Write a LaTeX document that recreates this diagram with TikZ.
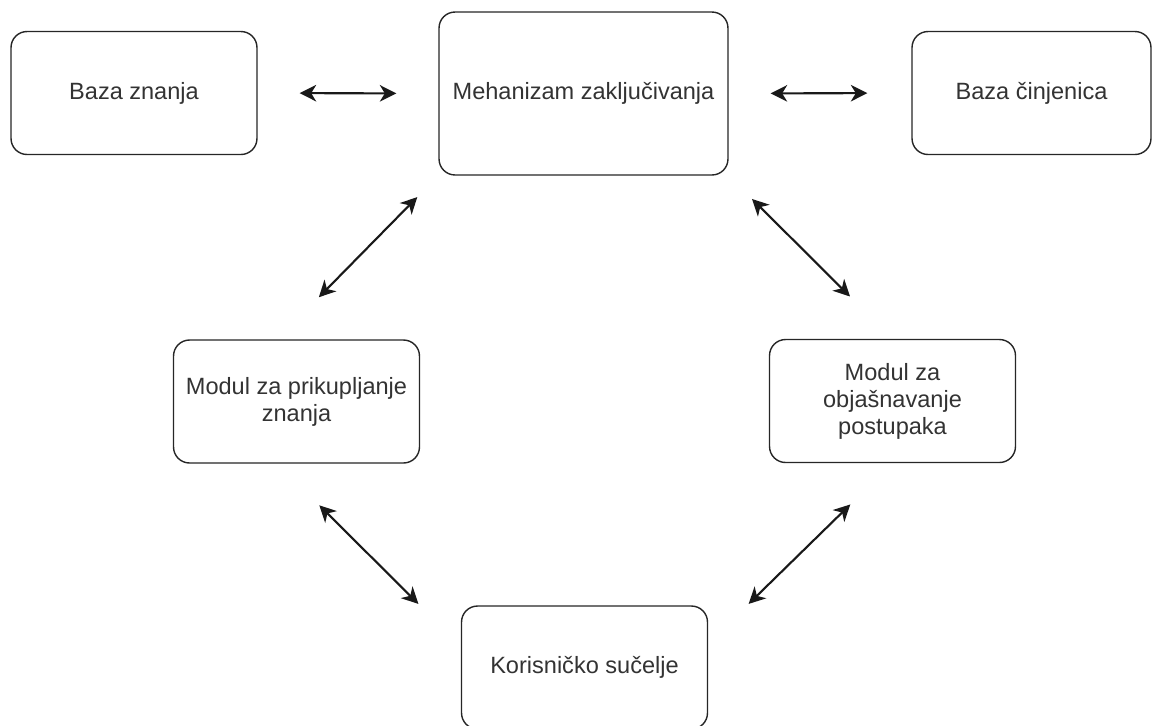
\documentclass[tikz,border=0pt]{standalone}
\usepackage{fontspec}
\setmainfont{Liberation Sans}
\usetikzlibrary{arrows.meta, positioning}

\tikzset{
  block/.style={draw=black!85, line width=0.8pt, rounded corners=0.32cm, fill=white,
    align=center, text=black!80, font=\fontsize{13.4}{15.4}\selectfont,
    minimum width=4.92cm, minimum height=2.46cm, inner sep=0pt},
  link/.style={{Stealth[length=0.33cm,width=0.33cm,inset=0.1cm]}-{Stealth[length=0.33cm,width=0.33cm,inset=0.1cm]},
    line width=1.2pt, black!90}
}

\begin{document}
\begin{tikzpicture}[x=0.02cm, y=-0.02cm]
  \useasboundingbox (0,0) rectangle (1152,725);

  \node[block]  (bz) at (134,93)   {Baza znanja};
  \node[block, minimum width=5.78cm, minimum height=3.26cm]
                (mz) at (583.5,93.5) {Mehanizam zaključivanja};
  \node[block, minimum width=4.78cm]  (bc) at (1031.5,93) {Baza činjenica};
  \node[block]  (mp) at (296.5,401.5) {Modul za prikupljanje\\znanja};
  \node[block]  (mo) at (892.5,401)   {Modul za\\objašnavanje\\postupaka};
  \node[block]  (ks) at (584.5,667.5) {Korisničko sučelje};

  \draw[link, shorten <=0.84cm, shorten >=0.84cm] (bz.east) -- (mz.west);
  \draw[link, shorten <=0.84cm, shorten >=0.88cm] (mz.east) -- (bc.west);
  \draw[link, shorten <=0.6cm, shorten >=1.18cm] (mz.south west) -- (mp.107);
  \draw[link, shorten <=0.66cm, shorten >=1.2cm] (mz.south east) -- (mo.north);
  \draw[link, shorten <=1.18cm, shorten >=0.04cm] (mp.253) -- ([xshift=-0.82cm]ks.north west);
  \draw[link, shorten <=1.18cm, shorten >=0.04cm] (mo.south) -- ([xshift=0.78cm]ks.north east);
\end{tikzpicture}
\end{document}
